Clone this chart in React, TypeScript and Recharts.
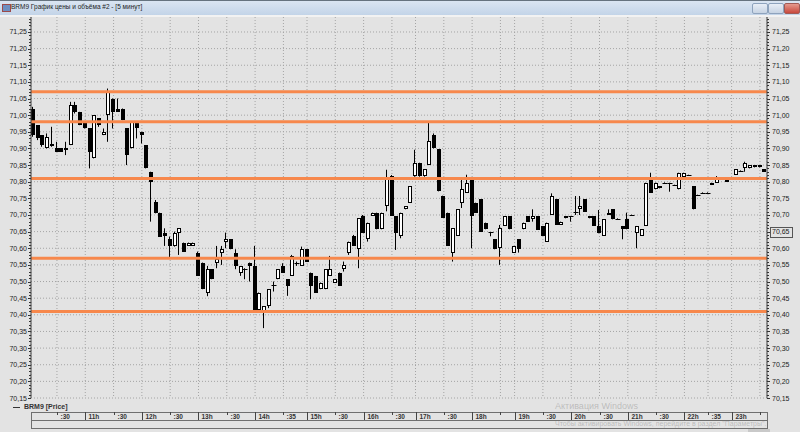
import React from 'react';
import { ComposedChart, Bar, XAxis, YAxis, CartesianGrid, ReferenceLine } from 'recharts';

// 5-minute candles, BRM9 (index = candle number)
const opens = [
  71.02, 70.97, 70.94, 70.9, 70.91, 70.9, 70.9, 70.895, 70.91, 71.03,
  71.01, 70.98, 70.96, 70.87, 70.99, 70.94, 71.0, 71.05, 71.02, 71.02,
  70.96, 70.9, 70.98, 70.95, 70.91, 70.83, 70.74, 70.707, 70.647, 70.627,
  70.607, 70.647, 70.617, 70.607, 70.607, 70.587, 70.557, 70.466, 70.537, 70.557,
  70.587, 70.62, 70.627, 70.587, 70.527, 70.537, 70.557, 70.547, 70.415, 70.41,
  70.427, 70.49, 70.507, 70.547, 70.507, 70.517, 70.557, 70.547, 70.597, 70.527,
  70.517, 70.477, 70.477, 70.517, 70.497, 70.527, 70.537, 70.587, 70.637, 70.597,
  70.697, 70.627, 70.697, 70.707, 70.657, 70.727, 70.818, 70.697, 70.637, 70.717,
  70.737, 70.817, 70.857, 70.817, 70.851, 70.941, 70.898, 70.758, 70.707, 70.587,
  70.637, 70.737, 70.767, 70.811, 70.737, 70.747, 70.677, 70.648, 70.627, 70.6,
  70.667, 70.697, 70.587, 70.627, 70.657, 70.697, 70.687, 70.697, 70.667, 70.62,
  70.7, 70.747, 70.67, 70.697, 70.697, 70.71, 70.717, 70.747, 70.697, 70.697,
  70.667, 70.637, 70.7, 70.717, 70.689, 70.667, 70.687, 70.7, 70.647, 70.637,
  70.667, 70.807, 70.777, 70.787, 70.797, 70.797, 70.79, 70.777, 70.815, 70.82,
  70.787, 70.76, 70.767, 70.767, 70.79, 70.797, 70.807, 70.807, 70.81, 70.82,
  70.833, 70.84, 70.84, 70.843, 70.85, 70.837,
];
const highs = [
  71.025, 70.97, 70.94, 70.945, 70.965, 70.92, 70.9, 70.92, 71.04, 71.04,
  71.01, 70.98, 70.96, 71.0, 70.99, 70.96, 71.08, 71.05, 71.05, 71.02,
  70.96, 70.98, 70.98, 70.95, 70.91, 70.83, 70.745, 70.707, 70.66, 70.635,
  70.65, 70.66, 70.617, 70.617, 70.617, 70.59, 70.557, 70.547, 70.537, 70.607,
  70.607, 70.647, 70.627, 70.597, 70.547, 70.54, 70.557, 70.607, 70.467, 70.425,
  70.477, 70.5, 70.537, 70.555, 70.507, 70.58, 70.56, 70.605, 70.597, 70.527,
  70.517, 70.497, 70.537, 70.577, 70.507, 70.527, 70.56, 70.62, 70.64, 70.69,
  70.7, 70.677, 70.707, 70.707, 70.707, 70.836, 70.82, 70.697, 70.707, 70.727,
  70.787, 70.896, 70.857, 70.837, 70.978, 70.945, 70.898, 70.758, 70.707, 70.66,
  70.717, 70.808, 70.821, 70.811, 70.737, 70.747, 70.677, 70.648, 70.627, 70.67,
  70.697, 70.697, 70.607, 70.627, 70.677, 70.697, 70.717, 70.697, 70.667, 70.677,
  70.765, 70.747, 70.68, 70.697, 70.697, 70.757, 70.757, 70.747, 70.697, 70.697,
  70.715, 70.687, 70.717, 70.717, 70.69, 70.667, 70.707, 70.701, 70.667, 70.657,
  70.797, 70.827, 70.797, 70.787, 70.798, 70.797, 70.791, 70.827, 70.827, 70.821,
  70.787, 70.761, 70.768, 70.768, 70.797, 70.817, 70.808, 70.807, 70.811, 70.837,
  70.834, 70.86, 70.85, 70.85, 70.85, 70.837,
];
const lows = [
  70.935, 70.925, 70.905, 70.9, 70.905, 70.89, 70.89, 70.88, 70.91, 71.005,
  70.97, 70.96, 70.84, 70.87, 70.965, 70.94, 70.92, 70.96, 71.01, 70.985,
  70.85, 70.9, 70.93, 70.915, 70.84, 70.68, 70.705, 70.635, 70.607, 70.573,
  70.605, 70.58, 70.59, 70.607, 70.607, 70.517, 70.477, 70.456, 70.507, 70.54,
  70.55, 70.6, 70.597, 70.537, 70.517, 70.507, 70.5, 70.415, 70.415, 70.36,
  70.42, 70.47, 70.507, 70.527, 70.457, 70.517, 70.547, 70.547, 70.56, 70.447,
  70.467, 70.477, 70.477, 70.517, 70.497, 70.487, 70.53, 70.58, 70.607, 70.54,
  70.647, 70.62, 70.697, 70.657, 70.657, 70.711, 70.697, 70.595, 70.63, 70.717,
  70.737, 70.815, 70.815, 70.815, 70.85, 70.9, 70.771, 70.691, 70.607, 70.56,
  70.637, 70.721, 70.767, 70.6, 70.707, 70.65, 70.657, 70.636, 70.597, 70.55,
  70.667, 70.657, 70.587, 70.587, 70.657, 70.68, 70.68, 70.655, 70.637, 70.62,
  70.7, 70.67, 70.67, 70.69, 70.68, 70.7, 70.7, 70.71, 70.69, 70.667,
  70.645, 70.637, 70.7, 70.687, 70.688, 70.627, 70.657, 70.699, 70.6, 70.637,
  70.667, 70.767, 70.777, 70.78, 70.796, 70.77, 70.789, 70.777, 70.815, 70.819,
  70.717, 70.759, 70.766, 70.766, 70.79, 70.797, 70.806, 70.8, 70.809, 70.82,
  70.832, 70.83, 70.84, 70.843, 70.843, 70.83,
];
const closes = [
  70.94, 70.93, 70.91, 70.935, 70.912, 70.89, 70.89, 70.9, 71.03, 71.01,
  70.97, 70.96, 70.89, 71.0, 70.97, 70.95, 71.07, 71.01, 71.01, 70.985,
  70.88, 70.98, 70.96, 70.94, 70.84, 70.8, 70.707, 70.635, 70.637, 70.607,
  70.645, 70.66, 70.59, 70.617, 70.617, 70.517, 70.477, 70.537, 70.507, 70.567,
  70.597, 70.627, 70.597, 70.547, 70.547, 70.537, 70.547, 70.415, 70.467, 70.425,
  70.477, 70.49, 70.537, 70.527, 70.487, 70.577, 70.557, 70.597, 70.56, 70.487,
  70.467, 70.497, 70.537, 70.537, 70.507, 70.487, 70.55, 70.62, 70.607, 70.69,
  70.647, 70.677, 70.707, 70.657, 70.707, 70.811, 70.697, 70.647, 70.707, 70.727,
  70.787, 70.857, 70.817, 70.837, 70.921, 70.901, 70.771, 70.691, 70.607, 70.66,
  70.717, 70.777, 70.797, 70.697, 70.707, 70.65, 70.657, 70.648, 70.597, 70.66,
  70.697, 70.657, 70.607, 70.597, 70.677, 70.68, 70.697, 70.655, 70.637, 70.677,
  70.757, 70.67, 70.68, 70.69, 70.697, 70.71, 70.727, 70.71, 70.69, 70.667,
  70.647, 70.687, 70.707, 70.687, 70.689, 70.657, 70.657, 70.7, 70.667, 70.657,
  70.797, 70.767, 70.797, 70.78, 70.797, 70.797, 70.79, 70.825, 70.827, 70.82,
  70.717, 70.76, 70.767, 70.767, 70.797, 70.807, 70.807, 70.8, 70.81, 70.837,
  70.833, 70.857, 70.85, 70.85, 70.843, 70.83,
];

// horizontal support / resistance levels (orange)
const levels = [71.07, 70.98, 70.81, 70.57, 70.41];

// time scale: candle index of each mark and its label
const timeTicks = [5, 11, 17, 23, 29, 35, 41, 47, 53, 58, 64, 70, 76, 81, 87, 93, 99, 102, 108, 114, 120, 126, 132, 138, 143, 148, 154];
const timeLabels = [':30', '11h', ':30', '12h', ':30', '13h', ':30', '14h', ':35', '15h', ':30', '16h', ':30', '17h', ':30', '18h', '', '19h', ':30', '20h', ':30', '21h', ':30', '22h', ':35', '23h', ''];

const priceTicks = Array.from({ length: 115 }, (_, k) => +(70.15 + k * 0.01).toFixed(2));
const priceGrid = priceTicks.filter((v) => Math.round(v * 100) % 5 === 0);
const boxedPrice = 70.65;

const candles = closes.map((c, i) => ({
  i,
  open: opens[i],
  high: highs[i],
  low: lows[i],
  close: c,
  range: [lows[i], highs[i]],
}));

const FONT = '"Liberation Sans", Arial, sans-serif';

function Candle(props: any) {
  const { x, y, width, height, payload } = props;
  if (x == null || y == null || !payload) return null;
  const { open, high, low, close } = payload;
  const k = high > low ? height / (high - low) : 0;
  const py = (v: number) => y + (high - v) * k;
  const left = Math.round(x + width / 2 - 2);
  const wx = left + 1.5;
  const top = Math.round(py(Math.max(open, close)));
  const bot = Math.round(py(Math.min(open, close)));
  let body;
  if (bot - top < 1) {
    body = <line x1={left - 0.5} x2={left + 4.5} y1={top + 0.5} y2={top + 0.5} stroke="#000" />;
  } else if (close > open) {
    body = <rect x={left + 0.5} y={top + 0.5} width={3} height={Math.max(1, bot - top - 1)} fill="#fff" stroke="#000" />;
  } else {
    body = <rect x={left} y={top} width={4} height={bot - top} fill="#000" />;
  }
  return (
    <g>
      <line x1={wx} x2={wx} y1={y} y2={y + height} stroke="#000" />
      {body}
    </g>
  );
}

function PriceTick(props: any) {
  const { x, y, payload, side } = props;
  const v = payload.value;
  const major = Math.round(v * 100) % 5 === 0;
  const dir = side === 'left' ? -1 : 1;
  const yy = Math.round(y) + 0.5;
  const label = v.toFixed(2).replace('.', ',');
  const tx = side === 'left' ? x - 4 : x + 5;
  return (
    <g>
      <line x1={x} x2={x + dir * (major ? 3 : 2)} y1={yy} y2={yy} stroke="#333" />
      {major && (
        <text x={tx} y={y + 2.5} textAnchor={side === 'left' ? 'end' : 'start'} fontSize={7} fontFamily={FONT} fill="#222">
          {label}
        </text>
      )}
      {side === 'right' && Math.abs(v - boxedPrice) < 1e-6 && (
        <rect x={x + 3.5} y={yy - 5} width={22} height={10} fill="none" stroke="#555" />
      )}
    </g>
  );
}

function TimeTick(props: any) {
  const { x, y, payload } = props;
  const idx = timeTicks.indexOf(payload.value);
  const label = timeLabels[idx] ?? '';
  const hour = label.endsWith('h');
  const xx = Math.round(x) + 0.5;
  return (
    <g>
      <line x1={xx} x2={xx} y1={y + 14} y2={y + (hour ? 22 : 17)} stroke="#444" />
      <text x={xx + 3} y={y + 20.5} fontSize={6.5} fontWeight="bold" fontFamily={FONT} fill="#333">
        {label}
      </text>
    </g>
  );
}

export default function App() {
  return (
    <div style={{ position: 'fixed', left: 0, top: 0, width: 800, height: 432, background: '#e3e3e3', overflow: 'hidden', fontFamily: FONT }}>
      {/* window title bar */}
      <div style={{ position: 'absolute', left: 0, top: 0, width: 800, height: 1, background: '#66737f' }} />
      <div style={{ position: 'absolute', left: 0, top: 1, width: 800, height: 14, background: 'linear-gradient(#dae5f2, #c3d4e8)' }} />
      <div style={{ position: 'absolute', left: 0, top: 15, width: 800, height: 2, background: '#f2f2f2' }} />
      <div style={{ position: 'absolute', left: 2, top: 4, width: 7, height: 6, background: '#6d8fc2', border: '1px solid #9b4a4a' }} />
      <div style={{ position: 'absolute', left: 11, top: 3, fontSize: 6.5, color: '#1d1d1d', whiteSpace: 'nowrap' }}>
        BRM9 График цены и объёма #2 - [5 минут]
      </div>
      <div style={{ position: 'absolute', left: 752, top: 3, width: 14, height: 9, borderRadius: 2, border: '1px solid #8ea3bd', background: 'linear-gradient(#e8eef6, #c6d3e3)' }} />
      <div style={{ position: 'absolute', left: 768, top: 3, width: 14, height: 9, borderRadius: 2, border: '1px solid #8ea3bd', background: 'linear-gradient(#e8eef6, #c6d3e3)' }} />
      <div style={{ position: 'absolute', left: 784, top: 3, width: 14, height: 9, borderRadius: 2, border: '1px solid #a05a55', background: 'linear-gradient(#e59a8e, #c8483c)' }} />

      {/* legend row */}
      <div style={{ position: 'absolute', left: 13, top: 407, width: 7, height: 1, background: '#333' }} />
      <div style={{ position: 'absolute', left: 24, top: 403, fontSize: 7, fontWeight: 'bold', color: '#333' }}>BRM9 [Price]</div>

      {/* time strip frame */}
      <div style={{ position: 'absolute', left: 31, top: 412, width: 735, height: 15, border: '1px solid #6f6f6f' }} />
      <div style={{ position: 'absolute', left: 31, top: 420, width: 736, height: 1, background: '#6f6f6f' }} />
      <div style={{ position: 'absolute', left: 748, top: 429, width: 22, height: 3, background: '#c9c9c9' }} />

      <div style={{ position: 'absolute', left: 0, top: 0 }}>
        <ComposedChart width={800} height={432} data={candles} margin={{ top: 17, right: 0, bottom: 0, left: 0 }}>
          <CartesianGrid yAxisId="left" horizontalValues={priceGrid} stroke="#a4a4a4" strokeDasharray="1 2" />
          <XAxis
            dataKey="i"
            type="number"
            domain={[-0.5, 155.5]}
            ticks={timeTicks}
            interval={0}
            height={34}
            axisLine={false}
            tickLine={false}
            tickSize={0}
            tickMargin={0}
            tick={<TimeTick />}
          />
          <YAxis
            yAxisId="left"
            orientation="left"
            width={31}
            type="number"
            domain={[70.15, 71.295]}
            allowDataOverflow
            ticks={priceTicks}
            interval={0}
            tickLine={false}
            tickSize={0}
            tickMargin={0}
            axisLine={{ stroke: '#444' }}
            tick={<PriceTick side="left" />}
          />
          <YAxis
            yAxisId="right"
            orientation="right"
            width={33}
            type="number"
            domain={[70.15, 71.295]}
            allowDataOverflow
            ticks={priceTicks}
            interval={0}
            tickLine={false}
            tickSize={0}
            tickMargin={0}
            axisLine={{ stroke: '#444' }}
            tick={<PriceTick side="right" />}
          />
          {levels.map((v) => (
            <ReferenceLine key={v} yAxisId="left" y={v} stroke="#f7884c" strokeWidth={3} />
          ))}
          <Bar yAxisId="left" dataKey="range" barSize={4} shape={<Candle />} isAnimationActive={false} />
        </ComposedChart>
      </div>

      {/* OS watermark */}
      <div style={{ position: 'absolute', left: 555, top: 401, fontSize: 9, color: 'rgba(110,110,110,0.35)', whiteSpace: 'nowrap' }}>Активация Windows</div>
      <div style={{ position: 'absolute', left: 555, top: 420, fontSize: 7, color: 'rgba(110,110,110,0.35)', whiteSpace: 'nowrap' }}>
        Чтобы активировать Windows, перейдите в раздел "Параметры".
      </div>
    </div>
  );
}
